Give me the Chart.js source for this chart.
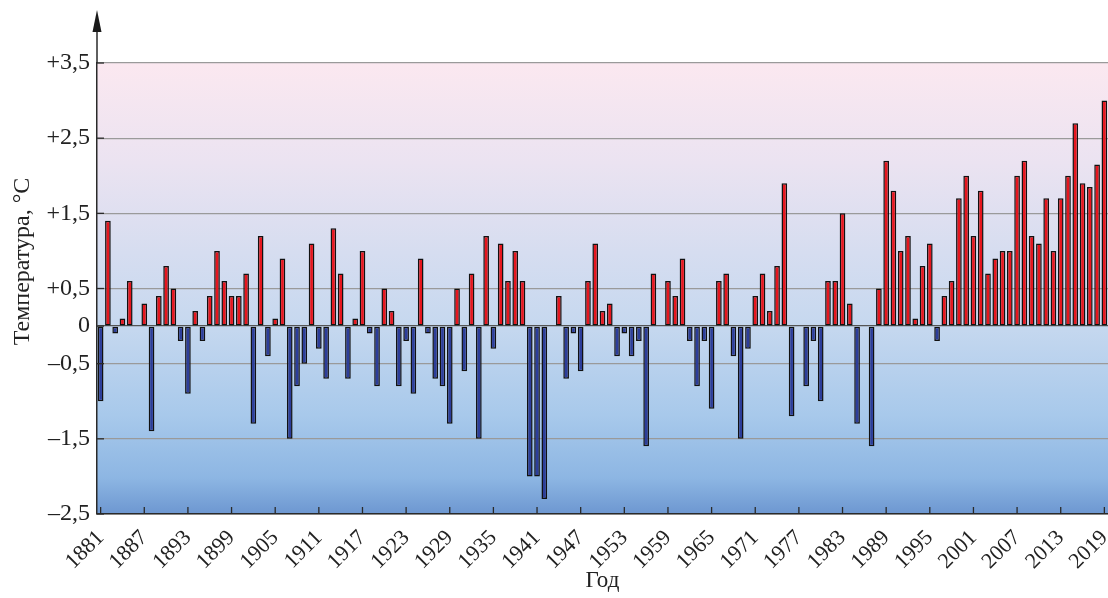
<!DOCTYPE html>
<html lang="ru">
<head>
    <meta charset="UTF-8">
    <title>Аномалии температуры, 1881–2019</title>
    <script src="https://cdn.jsdelivr.net/npm/chart.js"></script>
    <style>
        html, body {
            margin: 0;
            padding: 0;
            background: #fff;
        }
        #wrap {
            width: 1108px;
            height: 598px;
        }
    </style>
</head>
<body>
    <div id="wrap"><canvas id="chart" width="1108" height="598"></canvas></div>

    <script>
        // years 1881..2019
        const years = [];
        for (let y = 1881; y <= 2019; y++) years.push(String(y));

        // temperature anomaly, °C (one per year)
        const anomalies = [
            -1.0, 1.4, -0.1, 0.1, 0.6, 0, 0.3, -1.4, 0.4, 0.8,        // 1881-1890
            0.5, -0.2, -0.9, 0.2, -0.2, 0.4, 1.0, 0.6, 0.4, 0.4,      // 1891-1900
            0.7, -1.3, 1.2, -0.4, 0.1, 0.9, -1.5, -0.8, -0.5, 1.1,    // 1901-1910
            -0.3, -0.7, 1.3, 0.7, -0.7, 0.1, 1.0, -0.1, -0.8, 0.5,    // 1911-1920
            0.2, -0.8, -0.2, -0.9, 0.9, -0.1, -0.7, -0.8, -1.3, 0.5,  // 1921-1930
            -0.6, 0.7, -1.5, 1.2, -0.3, 1.1, 0.6, 1.0, 0.6, -2.0,     // 1931-1940
            -2.0, -2.3, 0, 0.4, -0.7, -0.1, -0.6, 0.6, 1.1, 0.2,      // 1941-1950
            0.3, -0.4, -0.1, -0.4, -0.2, -1.6, 0.7, 0, 0.6, 0.4,      // 1951-1960
            0.9, -0.2, -0.8, -0.2, -1.1, 0.6, 0.7, -0.4, -1.5, -0.3,  // 1961-1970
            0.4, 0.7, 0.2, 0.8, 1.9, -1.2, 0, -0.8, -0.2, -1.0,       // 1971-1980
            0.6, 0.6, 1.5, 0.3, -1.3, 0, -1.6, 0.5, 2.2, 1.8,         // 1981-1990
            1.0, 1.2, 0.1, 0.8, 1.1, -0.2, 0.4, 0.6, 1.7, 2.0,        // 1991-2000
            1.2, 1.8, 0.7, 0.9, 1.0, 1.0, 2.0, 2.2, 1.2, 1.1,         // 2001-2010
            1.7, 1.0, 1.7, 2.0, 2.7, 1.9, 1.85, 2.15, 3.0             // 2011-2019
        ];

        const tickYears = [1881, 1887, 1893, 1899, 1905, 1911, 1917, 1923, 1929, 1935, 1941, 1947,
                           1953, 1959, 1965, 1971, 1977, 1983, 1989, 1995, 2001, 2007, 2013, 2019];

        const yTickValues = [-2.5, -1.5, -0.5, 0, 0.5, 1.5, 2.5, 3.5];
        const yTickLabels = ['–2,5', '–1,5', '–0,5', '0', '+0,5', '+1,5', '+2,5', '+3,5'];

        const SERIF = '"Liberation Serif", "DejaVu Serif", serif';
        const RED = '#e6161e';
        const BLUE = '#2c3d9a';

        // gradient behind the bars
        const backdrop = {
            id: 'backdrop',
            beforeDraw(chart) {
                const { ctx, chartArea: a } = chart;
                const g = ctx.createLinearGradient(0, a.top, 0, a.bottom);
                g.addColorStop(0, '#fbe8f0');
                g.addColorStop(0.22, '#ebe3f1');
                g.addColorStop(0.42, '#d6ddf0');
                g.addColorStop(0.58, '#c6d8ef');
                g.addColorStop(0.78, '#a8c9eb');
                g.addColorStop(0.92, '#8db6e3');
                g.addColorStop(1, '#6d97d1');
                ctx.save();
                ctx.fillStyle = g;
                ctx.fillRect(a.left, a.top, a.right - a.left, a.bottom - a.top);
                ctx.restore();
            }
        };

        // arrow on y axis, inward tick marks, y title
        const decorations = {
            id: 'decorations',
            afterDraw(chart) {
                const { ctx, chartArea: a, scales } = chart;
                ctx.save();
                ctx.strokeStyle = '#2a2a2a';
                ctx.lineWidth = 1.5;
                ctx.beginPath();
                ctx.moveTo(a.left, a.top);
                ctx.lineTo(a.left, 24);
                ctx.stroke();
                ctx.fillStyle = '#1a1a1a';
                ctx.beginPath();
                ctx.moveTo(a.left, 10);
                ctx.lineTo(a.left - 4.5, 32);
                ctx.lineTo(a.left + 4.5, 32);
                ctx.closePath();
                ctx.fill();

                // x ticks pointing up into the plot
                ctx.lineWidth = 1.3;
                tickYears.forEach(y => {
                    const x = scales.x.getPixelForValue(years.indexOf(String(y)));
                    ctx.beginPath();
                    ctx.moveTo(x, a.bottom);
                    ctx.lineTo(x, a.bottom - 7);
                    ctx.stroke();
                });

                // y ticks pointing right
                yTickValues.forEach(v => {
                    const y = scales.y.getPixelForValue(v);
                    ctx.beginPath();
                    ctx.moveTo(a.left, y);
                    ctx.lineTo(a.left + 7, y);
                    ctx.stroke();
                });

                // y title
                ctx.fillStyle = '#222';
                ctx.font = '24px ' + SERIF;
                ctx.textAlign = 'center';
                ctx.textBaseline = 'middle';
                ctx.translate(23, a.top + (a.bottom - a.top) * 0.44);
                ctx.rotate(-Math.PI / 2);
                ctx.fillText('Температура, °С', 0, 0);
                ctx.restore();
            }
        };

        new Chart(document.getElementById('chart'), {
            type: 'bar',
            data: {
                labels: years,
                datasets: [{
                    data: anomalies,
                    backgroundColor: anomalies.map(v => v >= 0 ? RED : BLUE),
                    borderColor: '#111',
                    borderWidth: 1.5,
                    borderSkipped: false,
                    barPercentage: 0.78,
                    categoryPercentage: 1.0
                }]
            },
            options: {
                responsive: false,
                animation: false,
                devicePixelRatio: 1,
                layout: { padding: { top: 63, right: 0, bottom: 0, left: 0 } },
                plugins: {
                    legend: { display: false },
                    tooltip: { enabled: false }
                },
                scales: {
                    x: {
                        offset: true,
                        grid: { display: false },
                        border: { display: true, color: '#2a2a2a', width: 1.5 },
                        ticks: {
                            autoSkip: false,
                            maxRotation: 45,
                            minRotation: 45,
                            padding: 3,
                            color: '#222',
                            font: { family: SERIF, size: 22 },
                            callback: (value, index) =>
                                tickYears.includes(Number(years[index])) ? years[index] : ''
                        },
                        title: {
                            display: true,
                            text: 'Год',
                            color: '#222',
                            font: { family: SERIF, size: 23 },
                            padding: { top: 0, bottom: 3 }
                        },
                        afterFit(scale) {
                            scale.height = 84;
                            scale.paddingLeft = 0;
                            scale.paddingRight = 0;
                        }
                    },
                    y: {
                        min: -2.5,
                        max: 3.5,
                        afterBuildTicks(scale) {
                            scale.ticks = yTickValues.map(v => ({ value: v }));
                        },
                        grid: {
                            drawTicks: false,
                            color: ctx => (ctx.tick && ctx.tick.value === 0) ? '#555' : '#9a9a9a',
                            lineWidth: 1.3
                        },
                        border: { display: true, color: '#2a2a2a', width: 1.5 },
                        ticks: {
                            padding: 7,
                            color: '#222',
                            font: { family: SERIF, size: 24 },
                            callback: value => {
                                const i = yTickValues.findIndex(v => Math.abs(v - value) < 1e-6);
                                return i >= 0 ? yTickLabels[i] : '';
                            }
                        },
                        afterFit(scale) {
                            scale.width = 97;
                        }
                    }
                }
            },
            plugins: [backdrop, decorations]
        });
    </script>
</body>
</html>
